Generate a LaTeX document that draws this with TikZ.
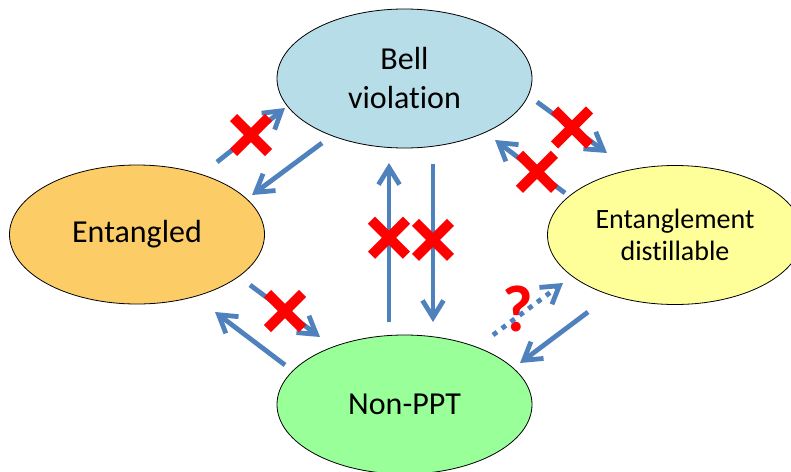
\documentclass[tikz,border=0pt]{standalone}
\usepackage{fontspec}
\setmainfont{Carlito}[Ligatures={NoCommon}]
\usetikzlibrary{arrows.meta,shapes.geometric,shapes.misc}
\definecolor{bellblue}{RGB}{183,221,232}
\definecolor{entorange}{RGB}{252,204,102}
\definecolor{distyellow}{RGB}{255,255,153}
\definecolor{pptgreen}{RGB}{153,255,153}
\definecolor{flowblue}{RGB}{79,129,189}
\definecolor{nored}{RGB}{255,0,0}

\begin{document}
\begin{tikzpicture}
  [x=1pt,y=-1pt,
   state/.style={ellipse,draw,line width=0.8pt,minimum width=255pt,minimum height=139pt,align=center},
   flow/.style={draw=flowblue,line width=4.8pt,-{Straight Barb[length=17pt,width=21pt]}},
   nox/.style={cross out,draw=nored,line width=10pt,minimum size=25pt,inner sep=0pt}]
  \useasboundingbox (0,0) rectangle (791,471);
  \node[state,fill=bellblue,font=\fontsize{32}{39}\selectfont] (bell) at (404.5,78.5) {Bell\\violation};
  \node[state,fill=entorange,font=\fontsize{32}{38}\selectfont] (ent) at (137,234.5) {Entangled};
  \node[state,fill=distyellow,font=\fontsize{28}{32}\selectfont] (dist) at (675,235) {Entanglement\\distillable};
  \node[state,fill=pptgreen,font=\fontsize{32}{38}\selectfont] (ppt) at (404.5,404.5) {Non-PPT};

  % arrow ends
  \coordinate (e2b-s) at (217,162); \coordinate (e2b-t) at (285,108);
  \coordinate (b2e-s) at (322,143); \coordinate (b2e-t) at (252,195);
  \coordinate (n2b-s) at (389,322); \coordinate (n2b-t) at (389,163);
  \coordinate (b2n-s) at (433,164); \coordinate (b2n-t) at (433,322);
  \coordinate (b2d-s) at (537,102); \coordinate (b2d-t) at (607,153);
  \coordinate (d2b-s) at (565,193); \coordinate (d2b-t) at (495,140);
  \coordinate (e2n-s) at (250,285); \coordinate (e2n-t) at (320,337);
  \coordinate (n2e-s) at (285,365); \coordinate (n2e-t) at (215,312);
  \coordinate (n2d-s) at (493,335); \coordinate (n2d-t) at (563,283);
  \coordinate (d2n-s) at (588,312); \coordinate (d2n-t) at (520,363);

\foreach \from/\to in
{b2e-s/b2e-t, n2e-s/n2e-t, d2n-s/d2n-t}
    \draw[flow] (\from) -- (\to);

  \draw[flow] (e2b-s) -- (e2b-t) node[nox,pos=.5] (x1) {};
  \draw[flow] (n2b-s) -- (n2b-t) node[nox,pos=.53] (x2) {};
  \draw[flow] (b2n-s) -- (b2n-t) node[nox,pos=.48] (x3) {};
  \draw[flow] (b2d-s) -- (b2d-t) node[nox,pos=.5] (x4) {};
  \draw[flow] (d2b-s) -- (d2b-t) node[nox,pos=.4] (x5) {};
  \draw[flow] (e2n-s) -- (e2n-t) node[nox,pos=.5] (x6) {};
  \node[text=nored,font=\fontsize{66}{66}\selectfont\bfseries] (q) at (518,309) {?};
  \draw[flow,dash pattern=on 5pt off 6pt] (n2d-s) -- (n2d-t);
\end{tikzpicture}
\end{document}
